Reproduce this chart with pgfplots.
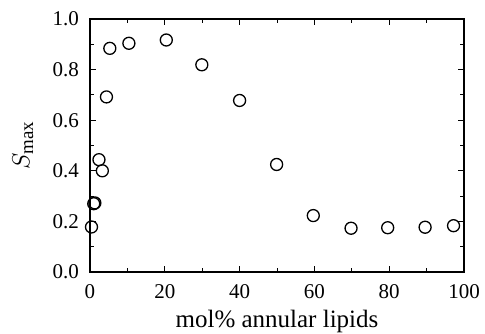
\documentclass[border=0pt]{standalone}
\usepackage{fontspec}
\setmainfont{Liberation Serif}
\usepackage{pgfplots}
\pgfplotsset{compat=1.18}
\begin{document}
\fontsize{21bp}{24bp}\selectfont
\begin{tikzpicture}
\begin{axis}[
  scale only axis,
  width=374bp, height=253bp,
  xmin=0, xmax=100, ymin=0, ymax=1,
  xtick={0,20,...,100}, ytick={0,0.2,...,1.0},
  minor xtick={10,30,50,70,90},
  minor ytick={0.1,0.3,0.5,0.7,0.9},
  tick align=inside,
  major tick length=6bp, minor tick length=4bp,
  every tick/.style={black, line width=1bp},
  axis line style={line width=1.6bp},
  yticklabel style={/pgf/number format/fixed, /pgf/number format/fixed zerofill, /pgf/number format/precision=1, xshift=-4bp},
  /pgf/number format/assume math mode=true,
  ticklabel style={font=\fontsize{21bp}{24bp}\selectfont},
  xticklabel style={yshift=-5bp},
  xlabel={mol\% annular lipids},
  ylabel={$S_{\mathrm{max}}$},
  xlabel style={font=\fontsize{25bp}{28bp}\selectfont, yshift=2bp},
  ylabel style={font=\fontsize{27bp}{30bp}\selectfont, yshift=5bp},
]
\addplot[only marks, mark=o, mark size=6bp, mark options={line width=1.3bp}] coordinates {
(0.4,0.178) (1.0,0.270) (1.3,0.273) (2.4,0.444) (3.3,0.400) (4.4,0.692) (5.3,0.884)
(10.4,0.904) (20.4,0.917) (29.9,0.819) (40.0,0.678) (49.9,0.425) (59.7,0.223)
(69.8,0.173) (79.6,0.175) (89.6,0.177) (97.2,0.183)
};
\coordinate (O) at (rel axis cs:0,0);
\end{axis}
\pgfresetboundingbox
\path (O) ++(-90bp,-62bp) rectangle ++(485bp,334bp);
\end{tikzpicture}
\end{document}
